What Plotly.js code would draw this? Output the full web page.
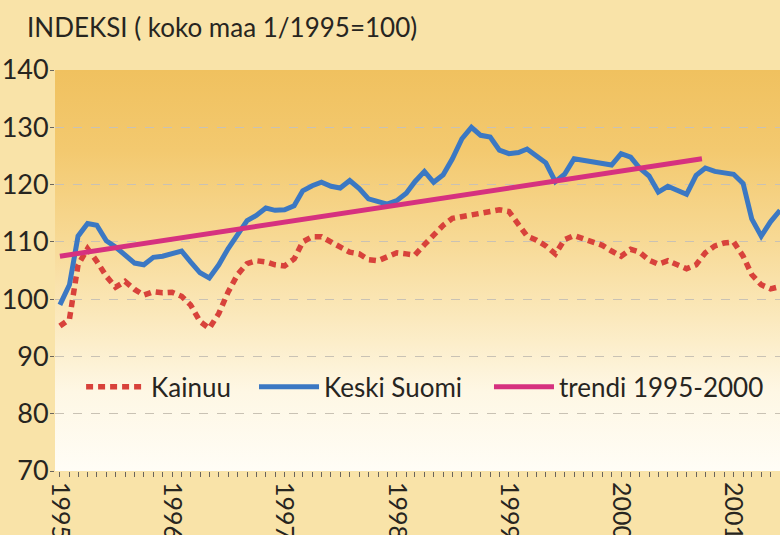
<!DOCTYPE html>
<html>
<head>
<meta charset="utf-8">
<script src="https://cdn.plot.ly/plotly-3.0.1.min.js"></script>
<style>
  html, body { margin: 0; padding: 0; }
  #wrap {
    position: relative; width: 780px; height: 535px; overflow: hidden;
    background: #f9e3a8;
  }
  #bg {
    position: absolute; left: 55px; top: 70px; width: 725px; height: 401px;
    background: linear-gradient(to bottom, #f0c15f 0%, #f3c96f 20%, #f7d994 42%, #fbe9bd 62%, #fef7e4 80%, #fffdf6 100%);
  }
  #chart { position: absolute; left: 0; top: 0; width: 780px; height: 535px; }
</style>
</head>
<body>
<div id="wrap"><div id="bg"></div><div id="chart"></div></div>
<script>
// Monthly observations, Jan 1995 .. Jun 2001
const months = [
  "1995-01","1995-02","1995-03","1995-04","1995-05","1995-06","1995-07","1995-08","1995-09","1995-10","1995-11","1995-12",
  "1996-01","1996-02","1996-03","1996-04","1996-05","1996-06","1996-07","1996-08","1996-09","1996-10","1996-11","1996-12",
  "1997-01","1997-02","1997-03","1997-04","1997-05","1997-06","1997-07","1997-08","1997-09","1997-10","1997-11","1997-12",
  "1998-01","1998-02","1998-03","1998-04","1998-05","1998-06","1998-07","1998-08","1998-09","1998-10","1998-11","1998-12",
  "1999-01","1999-02","1999-03","1999-04","1999-05","1999-06","1999-07","1999-08","1999-09","1999-10","1999-11","1999-12",
  "2000-01","2000-02","2000-03","2000-04","2000-05","2000-06","2000-07","2000-08","2000-09","2000-10","2000-11","2000-12",
  "2001-01","2001-02","2001-03","2001-04","2001-05","2001-06"
];

const keskiSuomi = [
  99.0,102.5,111.0,113.2,112.9,110.2,109.1,107.8,106.3,106.0,107.3,107.5,
  107.9,108.4,106.5,104.6,103.7,106.0,108.8,111.3,113.7,114.6,115.9,115.5,
  115.6,116.3,118.9,119.8,120.4,119.7,119.4,120.7,119.3,117.5,117.1,116.6,
  117.2,118.5,120.5,122.3,120.4,121.7,124.5,128.0,130.0,128.6,128.3,126.0,
  125.4,125.6,126.2,125.0,123.8,120.5,121.8,124.5,124.2,124.1,123.8,123.4,
  125.4,124.8,122.9,121.5,118.7,119.7,119.0,118.3,121.6,122.9,122.3,122.1,
  121.8,120.2,114.0,111.0,113.5,115.5
];

const kainuu = [
  95.3,96.5,106.0,108.8,106.6,104.0,102.1,103.1,101.7,100.7,101.3,101.1,
  101.2,100.5,99.0,96.1,94.9,97.5,101.2,104.3,106.2,106.7,106.5,106.0,
  105.8,107.0,110.0,110.9,110.9,109.9,109.0,108.2,107.9,106.9,106.7,107.4,
  108.1,107.9,107.7,109.5,111.1,112.9,114.1,114.4,114.8,114.9,115.4,115.6,
  115.3,113.2,111.0,110.3,109.3,107.9,110.4,111.1,110.5,109.8,109.4,108.4,
  107.5,108.7,108.2,106.8,106.1,106.7,105.9,105.3,106.0,108.1,109.3,109.8,
  110.0,107.5,104.3,102.5,101.8,102.2
];

// Trend line 1995-2000 (start and end points)
const trendX = ["1995-01-01", "2000-09-20"];
const trendY = [107.5, 124.5];

const names = ["Kainuu", "Keski Suomi", "trendi 1995-2000"];
const yTicks = [70, 80, 90, 100, 110, 120, 130, 140];

const FONT = "Lato, 'Open Sans', sans-serif";
const INK = "#27251f";

const traces = [
  { x: months, y: kainuu, name: names[0], type: "scatter", mode: "lines", legend: "legend",
    line: { color: "#d8423b", width: 5.5, dash: "7px,5px" } },
  { x: months, y: keskiSuomi, name: names[1], type: "scatter", mode: "lines", legend: "legend2",
    line: { color: "#3b78c3", width: 5 } },
  { x: trendX, y: trendY, name: names[2], type: "scatter", mode: "lines", legend: "legend3",
    line: { color: "#d6317f", width: 5 } }
];

function legendAt(x) {
  return {
    orientation: "h", x: x, y: 0.21, xanchor: "left", yanchor: "middle",
    bgcolor: "rgba(0,0,0,0)", font: { family: FONT, size: 26, color: INK },
    itemwidth: 60, traceorder: "normal"
  };
}

const layout = {
  width: 780, height: 535,
  margin: { l: 55, r: 0, t: 70, b: 64, pad: 0 },
  paper_bgcolor: "rgba(0,0,0,0)",
  plot_bgcolor: "rgba(0,0,0,0)",
  font: { family: FONT, color: INK, size: 22 },
  title: {
    text: "INDEKSI ( koko maa 1/1995=100)",
    x: 27 / 780, xanchor: "left", xref: "container",
    y: 1 - 28 / 535, yanchor: "middle", yref: "container",
    font: { family: FONT, size: 26, color: INK }
  },
  showlegend: true,
  legend: legendAt(0.036),
  legend2: legendAt(0.2745),
  legend3: legendAt(0.5986),
  xaxis: {
    type: "date",
    range: ["1994-12-16", "2001-06-01"],
    tick0: "1995-01-01", dtick: "M12", tickformat: "%Y",
    tickangle: 90,
    ticks: "outside", ticklen: 5, tickwidth: 1, tickcolor: "#6b655c",
    minor: { dtick: "M1", ticks: "outside", ticklen: 5, tickwidth: 1, tickcolor: "#6b655c", showgrid: false },
    showgrid: false, zeroline: false, showline: false,
    tickfont: { family: FONT, size: 25, color: INK },
    ticklabelstandoff: 0,
    automargin: false, fixedrange: true
  },
  yaxis: {
    range: [70, 140],
    tickvals: yTicks, ticktext: yTicks.map(String),
    ticks: "outside", ticklen: 4, tickwidth: 1, tickcolor: "#6b655c",
    showgrid: true, gridcolor: "#c9c2b4", gridwidth: 1, griddash: "dash",
    zeroline: false, showline: false,
    tickfont: { family: FONT, size: 27, color: INK },
    ticklabelstandoff: -4,
    automargin: false, fixedrange: true
  }
};

Plotly.newPlot("chart", traces, layout, { displayModeBar: false, staticPlot: true });
</script>
</body>
</html>
